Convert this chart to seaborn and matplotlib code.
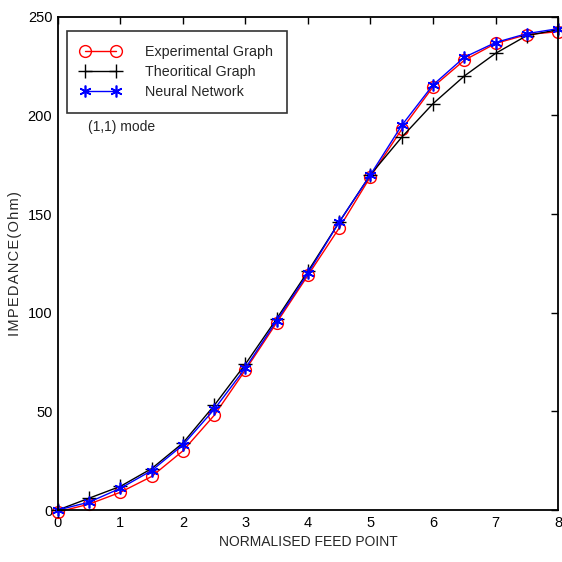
import matplotlib
matplotlib.use("Agg")
import matplotlib.pyplot as plt
import seaborn as sns
import pandas as pd

feed_point = [0, 0.5, 1, 1.5, 2, 2.5, 3, 3.5, 4, 4.5, 5, 5.5, 6, 6.5, 7, 7.5, 8]
experimental = [-1, 3, 9, 17, 30, 48, 71, 95, 119, 143, 169, 193, 214.5, 228, 236.5, 241, 242.5]
theoretical = [0, 6, 12, 21, 34, 53, 74, 97, 121, 146, 170, 189, 206, 220, 231.5, 240.5, 243.5]
neural = [0, 4, 11, 20, 33, 51, 72, 96, 120, 146, 170, 195, 215.5, 229.5, 237, 241.5, 244]

series_names = ["Experimental Graph", "Theoritical Graph", "Neural Network"]
x_ticks = [0, 1, 2, 3, 4, 5, 6, 7, 8]
y_ticks = [0, 50, 100, 150, 200, 250]

sns.set_style("white")
plt.rcParams['font.family'] = ['Liberation Sans', 'DejaVu Sans']

fig = plt.figure(figsize=(5.62, 5.62), dpi=100)
ax = fig.add_axes([0.103, 0.0925, 0.890, 0.8775])

styles = [
    dict(color="red", marker="o", markersize=8.5, markerfacecolor="none", markeredgecolor="red", markeredgewidth=1.0),
    dict(color="black", marker="+", markersize=10, markeredgewidth=1.0, markeredgecolor="black"),
    dict(color="blue", marker=(6, 2, 0), markersize=8.5, markeredgewidth=1.2, markeredgecolor="blue"),
]
for name, vals, st in zip(series_names, [experimental, theoretical, neural], styles):
    df = pd.DataFrame({"x": feed_point, "y": vals})
    sns.lineplot(data=df, x="x", y="y", ax=ax, label=name, linewidth=1.0, clip_on=False, **st)

ax.set_xlim(0, 8)
ax.set_ylim(0, 250)
ax.set_xticks(x_ticks)
ax.set_yticks(y_ticks)
ax.tick_params(direction="in", top=True, right=True, length=5, width=1, labelsize=10.5, colors="black", pad=4)
for s in ax.spines.values():
    s.set_visible(True)
    s.set_color("black")
    s.set_linewidth(1.3)
ax.set_xlabel("NORMALISED FEED POINT", fontsize=10, labelpad=4)
ax.set_ylabel("I M P E D A N C E ( O h m )".replace(" ", "\u200a"), fontsize=10.5, labelpad=4)
ax.text(0.48, 194, "(1,1) mode", fontsize=10, va="center", ha="left")

leg = ax.legend(loc="upper left", bbox_to_anchor=(0.018, 0.972), frameon=True, fancybox=False,
                edgecolor="black", fontsize=10.3, handlelength=2.75, borderpad=1.0, numpoints=2,
                labelspacing=0.42, handletextpad=1.7, borderaxespad=0)
leg.get_frame().set_linewidth(1.2)

fig.savefig("out.png", dpi=100)
